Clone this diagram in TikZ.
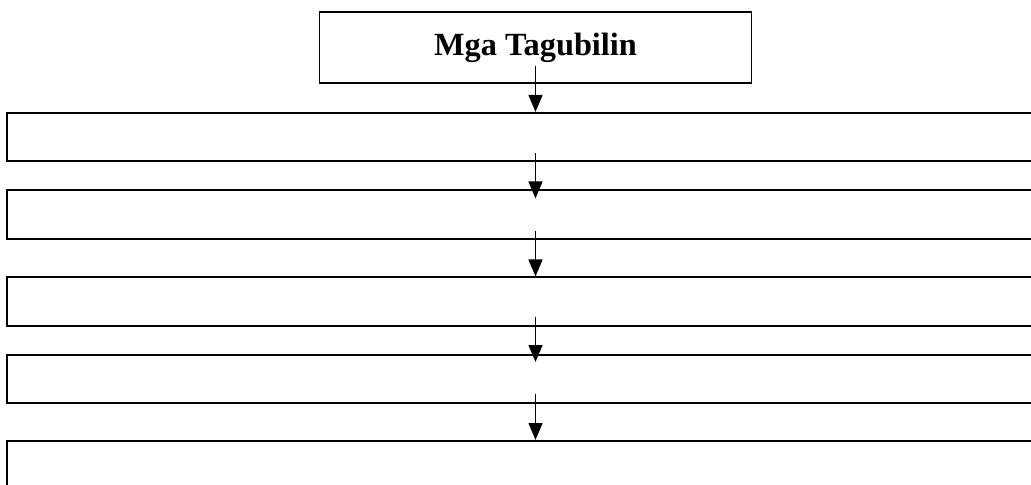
\documentclass[tikz,border=0pt]{standalone}
\usepackage{fontspec}
\setmainfont{Liberation Serif}
\usetikzlibrary{arrows.meta,calc}

\begin{document}
\begin{tikzpicture}[
    x=0.025cm, y=0.025cm,
    titlebox/.style={rectangle, draw, line width=1.3pt, minimum width=10.8cm, minimum height=1.77cm, font=\fontsize{23}{27}\selectfont\bfseries},
    rowbox/.style={rectangle, draw, line width=1.3pt, minimum width=25.95cm, minimum height=1.21cm},
    flow/.style={-{Triangle[width=10pt,length=12pt]}, line width=0.9pt}
]
    % Frame
    \clip (0,0) rectangle (1031,485);

    % Title
    \node[titlebox] (title) at (535.5,437.5) {Mga Tagubilin};

    % Empty rows
    \node[rowbox] (row1) at (526,348) {};
    \node[rowbox] (row2) at (526,270.5) {};
    \node[rowbox] (row3) at (526,183.5) {};
    \node[rowbox] (row4) at (526,106) {};
    \node[rowbox] (row5) at (526,20) {};

    % Arrows
    \draw[flow] ($(title.south)+(0,18)$) -- (row1.north -| title);
    \foreach \a/\b/\s/\e in {row1/row2/9/9, row2/row3/9/0, row3/row4/10/8, row4/row5/10/0} {
        \draw[flow] ($(\a.south -| title)+(0,\s)$) -- ($(\b.north -| title)+(0,-\e)$);
    }
\end{tikzpicture}
\end{document}
